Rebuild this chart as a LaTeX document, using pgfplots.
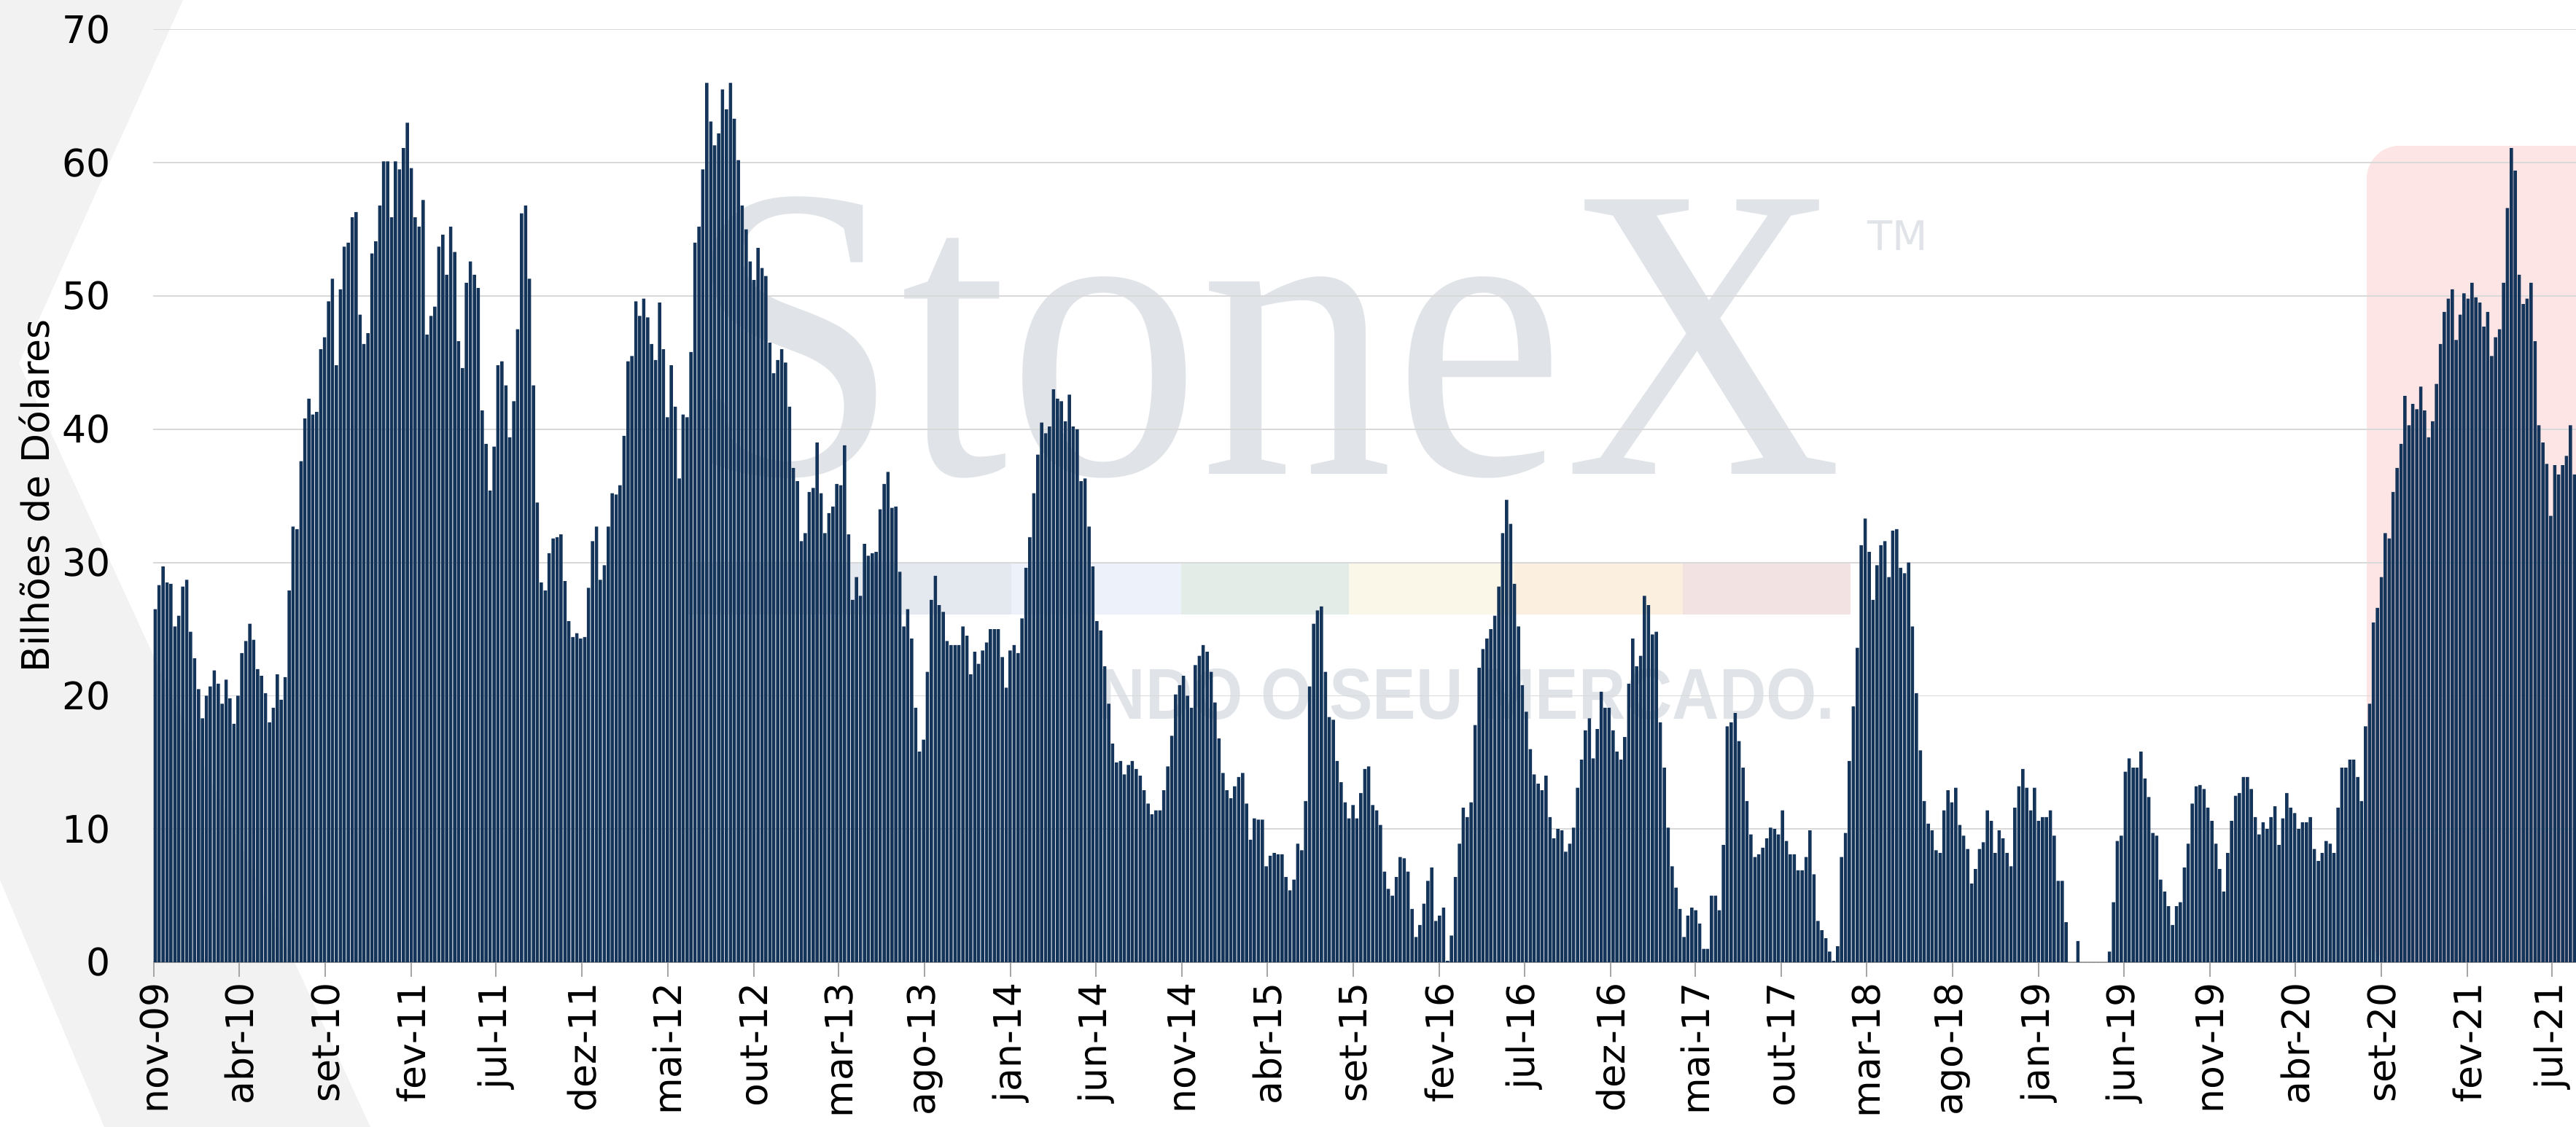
\documentclass[border=0pt]{standalone}
\usepackage{fontspec}
\setmainfont{DejaVu Sans}
\newfontfamily\wmserif{Liberation Serif}
\newfontfamily\wmsans{Liberation Sans}
\usepackage{pgfplots}
\usepackage{pgfplotstable}
\pgfplotsset{compat=1.18}
\definecolor{barblue}{RGB}{20,52,90}
\definecolor{wmgray}{RGB}{224,227,232}
\definecolor{bandgray}{RGB}{242,242,242}
\definecolor{pinkbox}{RGB}{253,229,229}
\definecolor{gridc}{RGB}{217,217,217}
\definecolor{s1}{RGB}{228,232,239}
\definecolor{s2}{RGB}{237,242,250}
\definecolor{s3}{RGB}{227,236,231}
\definecolor{s4}{RGB}{250,247,233}
\definecolor{s5}{RGB}{251,240,224}
\definecolor{s6}{RGB}{243,226,226}
\pgfplotstableread[row sep=\\]{
v\\
26.5\\28.3\\29.7\\28.5\\28.4\\25.2\\26.0\\28.2\\28.7\\24.8\\
22.8\\20.5\\18.3\\20.0\\20.7\\21.9\\20.9\\19.4\\21.2\\19.8\\
17.9\\20.0\\23.2\\24.1\\25.4\\24.2\\22.0\\21.5\\20.2\\18.0\\
19.1\\21.6\\19.7\\21.4\\27.9\\32.7\\32.5\\37.6\\40.8\\42.3\\
41.1\\41.3\\46.0\\46.9\\49.6\\51.3\\44.8\\50.5\\53.7\\54.0\\
55.9\\56.3\\48.6\\46.4\\47.2\\53.2\\54.1\\56.8\\60.1\\60.1\\
55.9\\
60.1\\59.5\\61.1\\63.0\\59.6\\55.9\\55.2\\57.2\\47.1\\48.5\\
49.2\\53.7\\54.6\\51.6\\55.2\\53.3\\46.6\\44.6\\51.0\\52.6\\
51.6\\50.6\\41.4\\38.9\\35.4\\38.7\\44.8\\45.1\\43.3\\39.4\\
42.1\\47.5\\56.2\\56.8\\51.3\\43.3\\34.5\\28.5\\27.9\\30.7\\
31.8\\31.9\\32.1\\28.6\\25.6\\24.4\\24.7\\24.3\\24.4\\28.1\\
31.6\\32.7\\28.7\\29.8\\32.7\\35.2\\35.1\\35.8\\39.5\\45.1\\
45.5\\
49.6\\48.5\\49.8\\48.4\\46.4\\45.2\\49.5\\46.0\\40.9\\44.8\\
41.7\\36.3\\41.1\\40.9\\45.8\\54.0\\55.2\\59.5\\66.0\\63.1\\
61.3\\62.2\\65.5\\64.0\\66.0\\63.3\\60.2\\56.8\\55.0\\52.6\\
51.2\\53.6\\52.1\\51.5\\46.5\\44.2\\45.2\\46.0\\45.0\\41.7\\
37.1\\36.1\\31.6\\32.2\\35.3\\35.6\\39.0\\35.2\\32.2\\33.7\\
34.2\\35.9\\35.8\\38.8\\32.1\\27.2\\28.9\\27.5\\31.4\\30.5\\
30.7\\
30.8\\34.0\\35.9\\36.8\\34.1\\34.2\\29.3\\25.2\\26.5\\24.3\\
19.1\\15.8\\16.7\\21.8\\27.2\\29.0\\26.8\\26.3\\24.1\\23.8\\
23.8\\23.8\\25.2\\24.5\\21.6\\23.3\\22.4\\23.4\\24.0\\25.0\\
25.0\\25.0\\22.9\\20.6\\23.4\\23.8\\23.2\\25.8\\29.6\\31.9\\
35.2\\38.1\\40.5\\39.7\\40.2\\43.0\\42.3\\42.1\\40.6\\42.6\\
40.2\\40.0\\36.1\\36.3\\32.7\\29.7\\25.6\\24.9\\22.2\\19.4\\
16.4\\
15.0\\15.1\\14.1\\14.8\\15.1\\14.5\\14.0\\12.9\\11.9\\11.1\\
11.4\\11.4\\12.9\\14.7\\17.0\\20.1\\20.8\\21.5\\20.0\\19.1\\
22.3\\23.0\\23.8\\23.3\\21.8\\19.5\\16.8\\14.2\\12.9\\12.3\\
13.2\\13.9\\14.2\\11.9\\9.2\\10.8\\10.7\\10.7\\7.2\\8.0\\
8.2\\8.1\\8.1\\6.4\\5.4\\6.2\\8.9\\8.4\\12.1\\20.7\\
25.4\\26.4\\26.7\\21.8\\18.4\\18.2\\15.1\\13.5\\12.0\\10.8\\
11.8\\
10.8\\12.7\\14.5\\14.7\\11.8\\11.4\\10.3\\6.8\\5.5\\5.0\\
6.4\\7.9\\7.8\\6.8\\4.0\\1.9\\2.8\\4.4\\6.1\\7.1\\
3.1\\3.5\\4.1\\0.1\\2.0\\6.4\\8.9\\11.6\\10.9\\12.0\\
17.8\\22.1\\23.5\\24.3\\25.0\\26.0\\28.2\\32.2\\34.7\\32.9\\
28.4\\25.2\\20.8\\18.8\\16.0\\14.1\\13.4\\12.9\\14.0\\10.9\\
9.3\\10.0\\9.9\\8.3\\8.9\\10.1\\13.1\\15.2\\17.4\\18.3\\
15.3\\
17.5\\20.3\\19.1\\19.1\\17.4\\15.8\\15.2\\16.9\\20.9\\24.3\\
22.2\\23.0\\27.5\\26.8\\24.6\\24.8\\18.0\\14.6\\10.1\\7.2\\
5.6\\4.0\\1.9\\3.5\\4.1\\3.9\\2.9\\1.0\\1.0\\5.0\\
5.0\\3.9\\8.8\\17.7\\18.0\\18.7\\16.6\\14.6\\12.1\\9.6\\
7.9\\8.1\\8.6\\9.3\\10.1\\10.0\\9.6\\11.4\\9.1\\8.1\\
8.1\\6.9\\6.9\\7.9\\9.9\\6.6\\3.1\\2.4\\1.8\\0.8\\
0.1\\
1.2\\7.9\\9.7\\15.1\\19.2\\23.6\\31.3\\33.3\\30.8\\27.2\\
29.8\\31.3\\31.6\\28.9\\32.4\\32.5\\29.6\\29.2\\30.0\\25.2\\
20.2\\15.9\\12.1\\10.4\\9.9\\8.4\\8.2\\11.4\\12.9\\12.0\\
13.1\\10.3\\9.5\\8.5\\5.9\\7.0\\8.5\\9.0\\11.4\\10.6\\
8.2\\9.9\\9.3\\8.2\\7.2\\11.6\\13.2\\14.5\\13.1\\11.4\\
13.1\\10.6\\10.9\\10.9\\11.4\\9.5\\6.1\\6.1\\3.0\\0\\
0\\1.6\\
0\\0\\0\\0\\0\\0\\0\\
0.8\\4.5\\9.1\\9.5\\14.3\\15.3\\14.6\\14.6\\15.8\\13.8\\
12.4\\9.7\\9.5\\6.2\\5.3\\4.2\\2.8\\4.2\\4.5\\7.1\\
8.9\\11.9\\13.2\\13.3\\13.0\\11.6\\10.6\\8.9\\7.0\\5.3\\
8.2\\10.6\\12.5\\12.7\\13.9\\13.9\\13.0\\10.9\\9.6\\10.5\\
10.0\\10.9\\11.7\\8.8\\10.8\\12.7\\11.6\\11.2\\10.0\\10.5\\
10.5\\10.9\\8.5\\7.6\\
8.2\\9.1\\8.9\\8.2\\11.6\\14.6\\14.6\\15.2\\15.2\\13.9\\
12.1\\17.7\\19.4\\25.5\\26.6\\28.9\\32.2\\31.8\\35.3\\37.1\\
38.9\\42.5\\40.3\\41.9\\41.5\\43.2\\41.4\\39.4\\40.6\\43.4\\
46.4\\48.8\\49.8\\50.5\\46.7\\48.6\\50.2\\49.8\\51.0\\49.9\\
49.5\\47.7\\48.8\\45.5\\46.9\\47.5\\51.0\\56.6\\61.1\\59.4\\
51.6\\49.4\\49.8\\51.0\\46.6\\40.3\\39.0\\37.4\\33.5\\37.3\\
36.6\\37.3\\38.0\\40.3\\36.6\\
}\flows
\begin{document}
\begin{tikzpicture}
% background decorations (watermark)
\fill[bandgray] (-41.99pt,264pt) -- (8.21pt,264pt) -- (-41.99pt,152.8pt) -- cycle;
\fill[bandgray] (-41.99pt,175.6pt) -- (59.6pt,-45.2pt) -- (-13.4pt,-45.2pt) -- (-41.99pt,22.6pt) -- cycle;
\fill[pinkbox, rounded corners=9pt] (607.2pt,0pt) rectangle (690pt,224pt);
\fill[s1] (146.0pt,95.4pt) rectangle (235.4pt,109.4pt);
\fill[s2] (235.4pt,95.4pt) rectangle (282.0pt,109.4pt);
\fill[s3] (282.0pt,95.4pt) rectangle (328.0pt,109.4pt);
\fill[s4] (328.0pt,95.4pt) rectangle (373.4pt,109.4pt);
\fill[s5] (373.4pt,95.4pt) rectangle (419.6pt,109.4pt);
\fill[s6] (419.6pt,95.4pt) rectangle (465.6pt,109.4pt);
\node[anchor=base west, inner sep=0pt, text=wmgray, xscale=0.92] at (146.0pt,133.8pt) {\wmserif\fontsize{115}{115}\selectfont StoneX};
\node[anchor=base west, inner sep=0pt, text=wmgray] at (470.0pt,195.2pt) {\fontsize{11.2}{12}\selectfont TM};
\node[anchor=base east, inner sep=0pt, text=wmgray, xscale=0.9] at (461.5pt,66.6pt) {\wmsans\bfseries\fontsize{19.8}{20}\selectfont NDO O SEU MERCADO.};
\begin{axis}[
  at={(0pt,0pt)}, anchor=south west,
  width=664.6pt, height=255.9pt, scale only axis,
  xmin=-2, xmax=4302.6, ymin=0, ymax=70,
  enlargelimits=false,
  ybar, bar width=0.9pt,
  axis x line*=bottom, axis y line*=left,
  y axis line style={draw=none},
  x axis line style={draw=gray!70, line width=0.4pt},
  ytick={0,10,...,70},
  ymajorgrids, grid style={gridc, line width=0.35pt},
  ytick style={draw=none},
  tick align=outside, major tick length=4pt,
  xtick style={draw=gray!70, line width=0.4pt},
  xtick={0,151,304,457,607,760,912,1065,1216,1369,1522,1673,1826,1977,2130,2283,2434,2587,2738,2891,3042,3195,3348,3499,3652,3804,3957,4110,4260},
  xticklabels={nov-09,abr-10,set-10,fev-11,jul-11,dez-11,mai-12,out-12,mar-13,ago-13,jan-14,jun-14,nov-14,abr-15,set-15,fev-16,jul-16,dez-16,mai-17,out-17,mar-18,ago-18,jan-19,jun-19,nov-19,abr-20,set-20,fev-21,jul-21},
  xticklabel style={rotate=90, anchor=east, inner sep=1.4pt, font=\fontsize{10.4}{12}\selectfont},
  yticklabel style={anchor=east, inner sep=0pt, xshift=-7.4pt, font=\fontsize{10.4}{12}\selectfont},
  /pgf/number format/assume math mode=true,
  ylabel={Bilhões de Dólares},
  every axis y label/.style={at={(axis description cs:-0.049,0.5)}, rotate=90, anchor=center, font=\fontsize{10.4}{12}\selectfont},
]
\addplot[fill=barblue, draw=none] table[x expr=\coordindex*7+1.7, y=v] {\flows};
\end{axis}
\pgfresetboundingbox
\path[use as bounding box] (-41.99pt,-45.2pt) rectangle (664.6pt,264.0pt);
\end{tikzpicture}
\end{document}
